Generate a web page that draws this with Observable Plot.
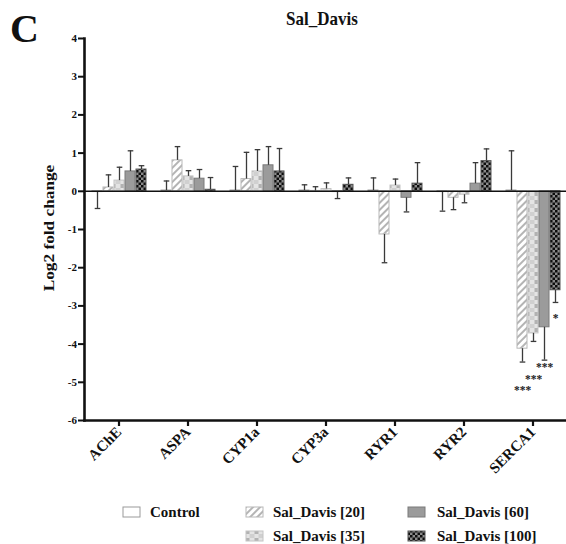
<!DOCTYPE html>
<html>
<head>
<meta charset="utf-8">
<script src="https://cdn.jsdelivr.net/npm/d3@7"></script>
<script src="https://cdn.jsdelivr.net/npm/@observablehq/plot@0.6"></script>
<style>
  body { margin: 0; background: #fff; }
  #wrap { position: relative; width: 566px; height: 544px; overflow: hidden; background: #fff;
          font-family: "Liberation Serif", "Times New Roman", serif; font-weight: bold; color: #111; }
  #wrap .abs { position: absolute; white-space: nowrap; line-height: 1; }
  #panel { left: 10px; top: 8.5px; font-size: 40px; }
  #title { left: 322px; top: 11px; font-size: 17px; transform: translateX(-50%) scaleY(1.12); transform-origin: 50% 85%; }
  #ylab { left: 48.5px; top: 227.5px; font-size: 15px; transform: translate(-50%, -50%) rotate(-90deg) scaleX(1.15); }
  #chart { position: absolute; left: 0; top: 0; }
  #legend { position: absolute; left: 0; top: 490px; }
</style>
</head>
<body>
<div id="wrap">
  <div id="chart"></div>
  <div class="abs" id="panel">C</div>
  <div class="abs" id="title">Sal_Davis</div>
  <div class="abs" id="ylab">Log2 fold change</div>
  <div id="legend"></div>
</div>
<script>
// ---- data ----
const genes = ["AChE", "ASPA", "CYP1a", "CYP3a", "RYR1", "RYR2", "SERCA1"];
const groups = ["Control", "Sal_Davis [20]", "Sal_Davis [35]", "Sal_Davis [60]", "Sal_Davis [100]"];

const control  = [-0.02, 0.02, 0.02, 0.02, 0.02, -0.02, 0.02];
const controlSD = [0.43, 0.25, 0.63, 0.15, 0.33, 0.50, 1.04];
const dose20   = [0.10, 0.81, 0.32, 0.01, -1.13, -0.17, -4.12];
const dose20SD = [0.33, 0.36, 0.70, 0.11, 0.74, 0.31, 0.35];
const dose35   = [0.28, 0.39, 0.52, 0.06, 0.15, -0.09, -3.72];
const dose35SD = [0.35, 0.15, 0.57, 0.16, 0.17, 0.21, 0.21];
const dose60   = [0.52, 0.33, 0.68, -0.02, -0.17, 0.20, -3.56];
const dose60SD = [0.54, 0.24, 0.49, 0.17, 0.37, 0.55, 0.86];
const dose100  = [0.57, 0.04, 0.52, 0.17, 0.20, 0.79, -2.59];
const dose100SD = [0.10, 0.32, 0.60, 0.18, 0.55, 0.32, 0.32];

const yTicks = [-6, -5, -4, -3, -2, -1, 0, 1, 2, 3, 4];

// significance marks (SERCA1)
const starGene = ["SERCA1", "SERCA1", "SERCA1", "SERCA1"];
const starGroup = ["Sal_Davis [20]", "Sal_Davis [35]", "Sal_Davis [60]", "Sal_Davis [100]"];
const starText = ["***", "***", "***", "*"];
const starY = [-5.20, -4.92, -4.61, -3.32];

// ---- styles ----
const fills = ["#ffffff", "url(#pat20)", "url(#pat35)", "#9b9b9b", "url(#pat100)"];
const strokes = ["#9a9a9a", "#b8b8b8", "#c4c4c4", "#7a7a7a", "#555555"];

const means = [control, dose20, dose35, dose60, dose100];
const sds = [controlSD, dose20SD, dose35SD, dose60SD, dose100SD];
const data = groups.flatMap((g, i) => genes.map((gene, j) => {
  const v = means[i][j];
  return {gene, group: g, value: v, end: v + Math.sign(v) * sds[i][j]};
}));
const stars = starText.map((t, i) => ({gene: starGene[i], group: starGroup[i], y: starY[i], label: t}));

const cap = {draw(ctx, size) { const r = Math.sqrt(size / Math.PI); ctx.moveTo(-r, 0); ctx.lineTo(r, 0); }};

const marks = [];
groups.forEach((g, i) => {
  marks.push(Plot.barY(data.filter(d => d.group === g), {
    fx: "gene", x: "group", y: "value", fill: "group", stroke: strokes[i], strokeWidth: 1
  }));
});
marks.push(
  Plot.ruleX(data, {fx: "gene", x: "group", y1: "value", y2: "end", stroke: "#3a3a3a", strokeWidth: 1.3}),
  Plot.dot(data, {fx: "gene", x: "group", y: "end", symbol: cap, r: 2.8, stroke: "#3a3a3a", strokeWidth: 1.3, fill: "none"}),
  Plot.ruleY([0], {stroke: "#111", strokeWidth: 1.6}),
  Plot.text(stars, {fx: "gene", x: "group", y: "y", text: "label", fontSize: 11.5, fontWeight: "bold", fill: "#222", lineAnchor: "middle"}),
  Plot.axisY({ticks: yTicks, tickSize: 6, tickPadding: 1.5, fontSize: 11, strokeWidth: 2, tickFormat: d => String(d), label: null}),
  Plot.axisFx({anchor: "bottom", tickSize: 6, tickPadding: 3, strokeWidth: 2.2, tickRotate: -45, fontSize: 15, label: null}),
  Plot.frame({anchor: "left", facet: "super", stroke: "#111", strokeWidth: 2.6}),
  Plot.frame({anchor: "bottom", facet: "super", stroke: "#111", strokeWidth: 2.6})
);

const plot = Plot.plot({
  width: 566,
  height: 500,
  marginLeft: 83,
  marginRight: -2,
  marginTop: 38,
  marginBottom: 80,
  style: {fontFamily: "'Liberation Serif', 'Times New Roman', serif", fontWeight: "bold", color: "#111", background: "transparent", overflow: "visible"},
  fx: {domain: genes, padding: 0, label: null},
  x: {domain: groups, paddingInner: 0.125, paddingOuter: 0.45, axis: null},
  y: {domain: [-6, 4], label: null},
  color: {type: "ordinal", domain: groups, range: fills},
  marks
});

// pattern definitions
const NS = "http://www.w3.org/2000/svg";
const defs = document.createElementNS(NS, "defs");
defs.innerHTML = `
  <pattern id="pat20" patternUnits="userSpaceOnUse" width="5" height="5" patternTransform="rotate(45)">
    <rect width="5" height="5" fill="#ffffff"/>
    <rect x="0" y="0" width="2" height="5" fill="#b4b4b4"/>
  </pattern>
  <pattern id="pat35" patternUnits="userSpaceOnUse" width="9" height="8">
    <rect width="9" height="8" fill="#e4e4e4"/>
    <rect x="2.5" y="0" width="4" height="4" fill="#b2b2b2"/>
    <rect x="0" y="4" width="2.5" height="4" fill="#d0d0d0"/>
    <rect x="6.5" y="4" width="2.5" height="4" fill="#d0d0d0"/>
  </pattern>
  <pattern id="pat100" patternUnits="userSpaceOnUse" width="5" height="5">
    <rect width="5" height="5" fill="#8a8a8a"/>
    <rect x="0" y="0" width="2.5" height="2.5" fill="#0d0d0d"/>
    <rect x="2.5" y="2.5" width="2.5" height="2.5" fill="#0d0d0d"/>
  </pattern>`;
plot.insertBefore(defs, plot.firstChild);
document.getElementById("chart").appendChild(plot);

// legend (below the chart)
const legendItems = [
  {label: groups[0], i: 0, sx: 123, row: 0, tx: 150},
  {label: groups[1], i: 1, sx: 246, row: 0, tx: 273},
  {label: groups[3], i: 3, sx: 408, row: 0, tx: 437},
  {label: groups[2], i: 2, sx: 246, row: 1, tx: 273},
  {label: groups[4], i: 4, sx: 408, row: 1, tx: 437}
];
const leg = d3.select("#legend").append("svg").attr("width", 566).attr("height", 54)
  .style("font-family", "'Liberation Serif', 'Times New Roman', serif").style("font-weight", "bold");
legendItems.forEach(it => {
  const cy = 22 + it.row * 24;
  leg.append("rect").attr("x", it.sx).attr("y", cy - 5).attr("width", 17).attr("height", 10)
    .attr("fill", fills[it.i]).attr("stroke", strokes[it.i]).attr("stroke-width", 1);
  leg.append("text").attr("x", it.tx).attr("y", cy + 5).attr("font-size", 15).attr("fill", "#111").text(it.label);
});
</script>
</body>
</html>
